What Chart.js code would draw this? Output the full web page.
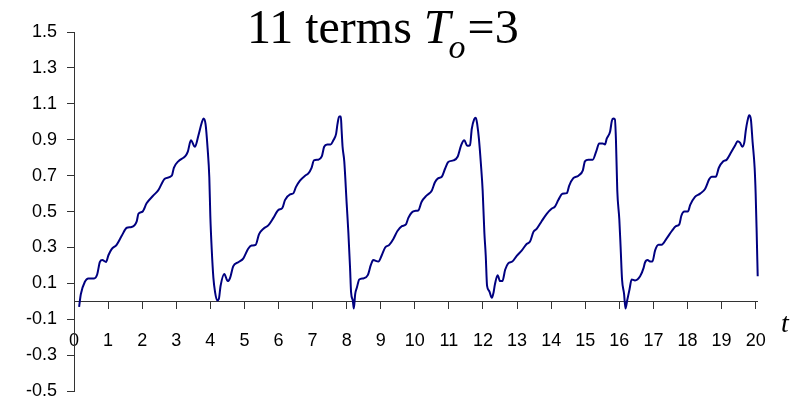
<!DOCTYPE html>
<html>
<head>
<meta charset="utf-8">
<script src="https://cdn.jsdelivr.net/npm/chart.js@4"></script>
<style>
  html, body { margin: 0; padding: 0; background: #fff; }
  #wrap { width: 799px; height: 412px; }
</style>
</head>
<body>
<div id="wrap"><canvas id="series"></canvas></div>
<script>
// partial sum of the sawtooth series, sampled along t
const tValues = [
  0.15, 0.2, 0.32, 0.42, 0.59, 0.68, 0.76, 0.83, 0.94, 1.01, 1.1, 1.25, 1.4, 1.55, 1.69, 1.84, 1.89,
  2.01, 2.13, 2.33, 2.47, 2.67, 2.87, 2.93, 3.06, 3.21, 3.26, 3.34, 3.43, 3.55, 3.65, 3.75, 3.8,
  3.86, 3.92, 3.97, 4.0, 4.04, 4.09, 4.14, 4.2, 4.25, 4.3, 4.41, 4.51, 4.58, 4.67, 4.82, 4.97,
  5.11, 5.21, 5.33, 5.43, 5.56, 5.7, 5.85, 6.0, 6.11, 6.19, 6.34, 6.44, 6.51, 6.63, 6.78, 6.87,
  6.97, 7.04, 7.17, 7.27, 7.34, 7.43, 7.53, 7.61, 7.69, 7.73, 7.78, 7.83, 7.85, 7.88, 7.93, 8.0,
  8.05, 8.1, 8.13, 8.18, 8.21, 8.25, 8.3, 8.37, 8.49, 8.62, 8.71, 8.78, 8.93, 9.03, 9.13, 9.25,
  9.37, 9.49, 9.62, 9.74, 9.81, 9.91, 10.0, 10.1, 10.2, 10.35, 10.5, 10.59, 10.69, 10.79, 10.89,
  10.98, 11.13, 11.26, 11.36, 11.45, 11.54, 11.62, 11.67, 11.74, 11.79, 11.83, 11.88, 11.94, 11.99,
  12.04, 12.08, 12.12, 12.18, 12.26, 12.31, 12.35, 12.43, 12.5, 12.57, 12.65, 12.74, 12.86, 12.99,
  13.14, 13.28, 13.38, 13.48, 13.58, 13.72, 13.87, 14.02, 14.11, 14.21, 14.33, 14.46, 14.53, 14.65,
  14.8, 14.93, 14.99, 15.09, 15.22, 15.32, 15.41, 15.51, 15.58, 15.63, 15.73, 15.78, 15.82, 15.87,
  15.9, 15.94, 16.0, 16.04, 16.08, 16.14, 16.18, 16.23, 16.3, 16.36, 16.46, 16.61, 16.71, 16.75,
  16.83, 16.9, 16.97, 17.05, 17.15, 17.24, 17.39, 17.54, 17.66, 17.76, 17.82, 17.91, 18.01, 18.08,
  18.22, 18.37, 18.52, 18.64, 18.71, 18.83, 18.92, 19.05, 19.15, 19.28, 19.4, 19.47, 19.54, 19.61,
  19.67, 19.71, 19.76, 19.81, 19.86, 19.91, 19.97, 20.0, 20.03, 20.06
];
const sumValues = [
  -0.03, 0.04, 0.11, 0.128, 0.128, 0.15, 0.22, 0.23, 0.22, 0.257, 0.29, 0.315, 0.365, 0.41, 0.414, 0.446, 0.488,
  0.5, 0.546, 0.59, 0.618, 0.684, 0.7, 0.744, 0.78, 0.8, 0.807, 0.834, 0.897, 0.861, 0.924, 0.996, 1.018,
  0.987, 0.852, 0.69, 0.474, 0.293, 0.131, 0.05, 0.005, 0.014, 0.086, 0.153, 0.113, 0.131, 0.195, 0.218, 0.24,
  0.293, 0.311, 0.315, 0.375, 0.405, 0.423, 0.465, 0.51, 0.519, 0.564, 0.596, 0.603, 0.636, 0.672, 0.7, 0.711,
  0.744, 0.785, 0.789, 0.807, 0.861, 0.874, 0.874, 0.897, 0.933, 0.987, 1.029, 1.029, 0.96, 0.861, 0.78, 0.546,
  0.384, 0.185, 0.05, 0.005, -0.04, 0.041, 0.077, 0.122, 0.128, 0.146, 0.203, 0.23, 0.222, 0.257, 0.3, 0.315,
  0.348, 0.392, 0.419, 0.429, 0.465, 0.495, 0.504, 0.506, 0.555, 0.59, 0.618, 0.663, 0.686, 0.694, 0.74,
  0.776, 0.785, 0.807, 0.87, 0.897, 0.866, 0.87, 0.96, 1.014, 1.023, 0.987, 0.906, 0.762, 0.618,
  0.384, 0.257, 0.086, 0.059, 0.02, 0.05, 0.095, 0.146, 0.113, 0.113, 0.176, 0.212, 0.222, 0.254,
  0.284, 0.32, 0.333, 0.387, 0.405, 0.446, 0.488, 0.517, 0.528, 0.564, 0.6, 0.603, 0.645, 0.686,
  0.7, 0.73, 0.78, 0.789, 0.789, 0.834, 0.879, 0.879, 0.874, 0.906, 0.946, 1.005, 1.018, 1.014,
  0.906, 0.618, 0.456, 0.293, 0.122, 0.041, -0.04, 0.005, 0.068, 0.122, 0.117, 0.14, 0.185, 0.215,
  0.23, 0.222, 0.222, 0.284, 0.315, 0.315, 0.351, 0.392, 0.419, 0.429, 0.477, 0.5, 0.5, 0.537,
  0.582, 0.6, 0.627, 0.681, 0.694, 0.694, 0.744, 0.78, 0.789, 0.83, 0.87, 0.892, 0.884, 0.861,
  0.888, 0.951, 1.005, 1.036, 1.014, 0.888, 0.744, 0.6, 0.384, 0.14
];

// the sum runs a hair past the last labelled tick at 20
const tRange = [0, 20.06];
const tLastTick = 20;
const yRange = [-0.5, 1.5];
const yStep = 0.2;

const points = tValues.map((t, i) => ({ x: t, y: sumValues[i] }));

const axisColor = "#333333";
const tickFont = { family: "'Liberation Sans', Arial, sans-serif", size: 18 };

// title with italic T and subscript o, plus the t axis name
const annotations = {
  id: "annotations",
  afterDraw(chart) {
    const ctx = chart.ctx;
    ctx.save();
    ctx.fillStyle = "#000";
    ctx.textBaseline = "alphabetic";
    ctx.textAlign = "left";
    let x = 247;
    const base = 43;
    ctx.font = "48px 'Liberation Serif', 'Times New Roman', serif";
    ctx.fillText("11 terms ", x, base);
    x += ctx.measureText("11 terms ").width;
    ctx.font = "italic 48px 'Liberation Serif', 'Times New Roman', serif";
    ctx.fillText("T", x, base);
    x += ctx.measureText("T").width - 2;
    ctx.font = "italic 34px 'Liberation Serif', 'Times New Roman', serif";
    ctx.fillText("o", x, base + 15);
    x += ctx.measureText("o").width + 2;
    ctx.font = "48px 'Liberation Serif', 'Times New Roman', serif";
    ctx.fillText("=3", x, base);

    ctx.font = "italic 28px 'Liberation Serif', 'Times New Roman', serif";
    ctx.fillText("t", 781, 332);
    ctx.restore();
  }
};

new Chart(document.getElementById("series").getContext("2d"), {
  type: "line",
  data: {
    datasets: [{
      data: points,
      borderColor: "#000080",
      borderWidth: 2,
      pointRadius: 0,
      fill: false,
      cubicInterpolationMode: "monotone",
      clip: false,
    }],
  },
  options: {
    responsive: true,
    maintainAspectRatio: false,
    animation: false,
    layout: { padding: { top: 32, bottom: 10.5, left: 0, right: 41.3 } },
    plugins: {
      legend: { display: false },
      tooltip: { enabled: false },
      title: { display: false },
    },
    scales: {
      x: {
        type: "linear",
        position: { y: 0 },
        min: tRange[0],
        max: tRange[1],
        grid: { drawOnChartArea: false, drawTicks: true, tickLength: 7, color: axisColor },
        border: { display: true, color: axisColor, width: 1 },
        ticks: {
          stepSize: 1,
          includeBounds: false,
          autoSkip: false,
          maxRotation: 0,
          padding: 22,
          color: "#000",
          font: tickFont,
          callback: (v) => String(Math.round(v)),
        },
        afterBuildTicks(scale) {
          scale.ticks = scale.ticks.filter((tk) => tk.value <= tLastTick);
        },
        afterFit(scale) { scale.height = 0; },
      },
      y: {
        type: "linear",
        min: yRange[0],
        max: yRange[1],
        grid: { drawOnChartArea: false, drawTicks: true, tickLength: 7, color: axisColor },
        border: { display: true, color: axisColor, width: 1 },
        ticks: {
          stepSize: yStep,
          padding: 10,
          color: "#000",
          font: tickFont,
          callback: (v) => v.toFixed(1),
        },
        afterFit(scale) { scale.width = 74; },
      },
    },
  },
  plugins: [annotations],
});
</script>
</body>
</html>
